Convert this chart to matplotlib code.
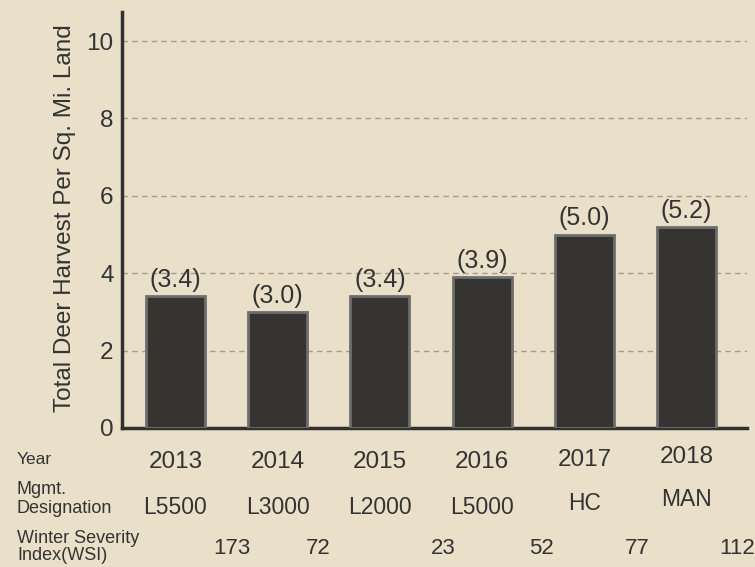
import matplotlib.pyplot as plt
import matplotlib.transforms as mtransforms

years = ['2013', '2014', '2015', '2016', '2017', '2018']
harvest = [3.4, 3.0, 3.4, 3.9, 5.0, 5.2]
mgmt = ['L5500', 'L3000', 'L2000', 'L5000', 'HC', 'MAN']
wsi = ['173', '72', '23', '52', '77', '112']

bg = '#eadfc9'
txt = '#333333'

plt.rcParams['font.family'] = ['Liberation Sans', 'DejaVu Sans']

fig = plt.figure(figsize=(7.55, 5.67), dpi=100, facecolor=bg)
ax = fig.add_axes([122/755, 1-428/567, (747-122)/755, (428-12)/567])
ax.set_facecolor(bg)

xs = list(range(len(years)))
ax.bar(xs, harvest, width=0.576, color='#363430', edgecolor='#6e6e6e',
       linewidth=2, zorder=3)
for x, v in zip(xs, harvest):
    ax.annotate('(%.1f)' % v, (x, v), xytext=(0, 3), textcoords='offset points',
                ha='center', va='bottom', fontsize=18, color=txt, zorder=4)

ax.set_xlim(-0.522, 5.59)
ax.set_ylim(0, 10.75)
ax.set_yticks([0, 2, 4, 6, 8, 10])
ax.set_xticks([])
ax.tick_params(axis='y', length=0, labelsize=17.5, labelcolor=txt, pad=6)
ax.grid(axis='y', linestyle=(0, (4, 3)), color='#a39c8e', linewidth=1, zorder=0)
for s in ['top', 'right']:
    ax.spines[s].set_visible(False)
for s in ['left', 'bottom']:
    ax.spines[s].set_color('#333130')
    ax.spines[s].set_linewidth(2.5)

fig.text(65/755, 1-218/567, 'Total Deer Harvest Per Sq. Mi. Land', rotation=90,
         ha='center', va='center', fontsize=17.5, color=txt)

# table under the chart
tr = mtransforms.blended_transform_factory(ax.transData, fig.transFigure)
year_y = [462, 462, 462, 462, 460, 457]
mgmt_y = [507, 507, 507, 507, 504, 500]
wsi_off = [0.55, 0.40, 0.62, 0.58, 0.52, 0.49]
for i in xs:
    ax.text(i, 1-year_y[i]/567, years[i], transform=tr, ha='center', va='center',
            fontsize=17.5, color=txt, clip_on=False)
    ax.text(i, 1-mgmt_y[i]/567, mgmt[i], transform=tr, ha='center', va='center',
            fontsize=16.5, color=txt, clip_on=False)
    ax.text(i + wsi_off[i], 1-549/567, wsi[i], transform=tr, ha='center', va='center',
            fontsize=16, color=txt, clip_on=False)

fig.text(17/755, 1-460/567, 'Year', ha='left', va='center', fontsize=12.5, color=txt)
fig.text(17/755, 1-499/567, 'Mgmt.\nDesignation', ha='left', va='center',
         fontsize=13, color=txt, linespacing=1.15)
fig.text(17/755, 1-547/567, 'Winter Severity\nIndex(WSI)', ha='left', va='center',
         fontsize=13, color=txt, linespacing=1.05)

fig.savefig('out.png', dpi=100, facecolor=bg)
